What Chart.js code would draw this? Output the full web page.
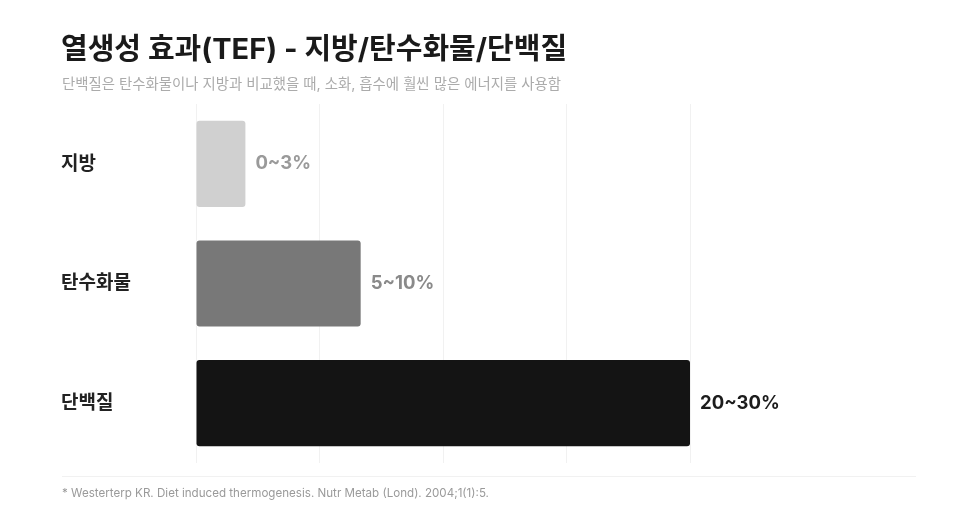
<!DOCTYPE html>
<html lang="ko">
<head>
<meta charset="utf-8">
<script src="https://cdn.jsdelivr.net/npm/chart.js@4.4.1/dist/chart.umd.min.js"></script>
<style>
  html, body { margin: 0; padding: 0; background: #ffffff; }
  body { width: 966px; height: 517px; position: relative; overflow: hidden;
         font-family: Inter, "Noto Sans CJK KR", "Noto Sans", sans-serif; }
  #wrap { position: absolute; left: 0; top: 0; width: 966px; height: 517px; }
  .title { position: absolute; left: 61px; top: 25px; font-size: 29px; font-weight: 700;
           color: #1a1a1a; white-space: nowrap; }
  .subtitle { position: absolute; left: 62px; top: 72px; font-size: 14.4px; font-weight: 400;
              color: #ababab; white-space: nowrap; }
  .rule { position: absolute; left: 62px; top: 476px; width: 854px; height: 1px; background: #f1f1f1; }
  .note { position: absolute; left: 62px; top: 486px; font-size: 11.6px; color: #9a9a9a;
          white-space: nowrap; }
</style>
</head>
<body>
<div id="wrap"><canvas id="c" width="966" height="517"></canvas></div>
<div class="title">열생성 효과(TEF) - 지방/탄수화물/단백질</div>
<div class="subtitle">단백질은 탄수화물이나 지방과 비교했을 때, 소화, 흡수에 훨씬 많은 에너지를 사용함</div>
<div class="rule"></div>
<div class="note">* Westerterp KR. Diet induced thermogenesis. Nutr Metab (Lond). 2004;1(1):5.</div>
<script>
const categories = ['지방', '탄수화물', '단백질'];
const rangeLow = [0, 5, 20];
const rangeHigh = [3, 10, 30];
const valueLabels = ['0~3%', '5~10%', '20~30%'];
const barColors = ['#d0d0d0', '#787878', '#141414'];
const labelColors = ['#9a9a9a', '#8a8a8a', '#1c1c1c'];
const axisMax = 30;
const axisStep = 7.5;

const valueLabelPlugin = {
  id: 'valueLabels',
  afterDatasetsDraw(chart) {
    const ctx = chart.ctx;
    const meta = chart.getDatasetMeta(0);
    ctx.save();
    ctx.font = '700 18.5px Inter, "Noto Sans CJK KR", sans-serif';
    ctx.textBaseline = 'middle';
    ctx.textAlign = 'left';
    meta.data.forEach((bar, i) => {
      ctx.fillStyle = labelColors[i];
      ctx.fillText(valueLabels[i], bar.x + 10, bar.y);
    });
    ctx.restore();
  }
};

new Chart(document.getElementById('c'), {
  type: 'bar',
  data: {
    labels: categories,
    datasets: [{
      data: rangeHigh,
      backgroundColor: barColors,
      borderRadius: 3,
      borderSkipped: false,
      barPercentage: 0.72,
      categoryPercentage: 1.0
    }]
  },
  options: {
    indexAxis: 'y',
    responsive: false,
    animation: false,
    devicePixelRatio: 1,
    layout: { padding: { top: 104, bottom: 54, left: 61, right: 276 } },
    plugins: { legend: { display: false }, tooltip: { enabled: false } },
    scales: {
      x: {
        min: 0, max: axisMax,
        ticks: { display: false, stepSize: axisStep },
        grid: { color: '#f1f1f1', drawTicks: false, lineWidth: 1 },
        border: { display: false },
        afterFit(scale) { scale.height = 0; }
      },
      y: {
        grid: { display: false, drawTicks: false },
        border: { display: false },
        ticks: {
          crossAlign: 'far',
          padding: 0,
          color: '#222222',
          font: { family: 'Inter, "Noto Sans CJK KR", sans-serif', size: 19, weight: '700' }
        },
        afterFit(scale) { scale.width = 135; }
      }
    }
  },
  plugins: [valueLabelPlugin]
});
</script>
</body>
</html>
